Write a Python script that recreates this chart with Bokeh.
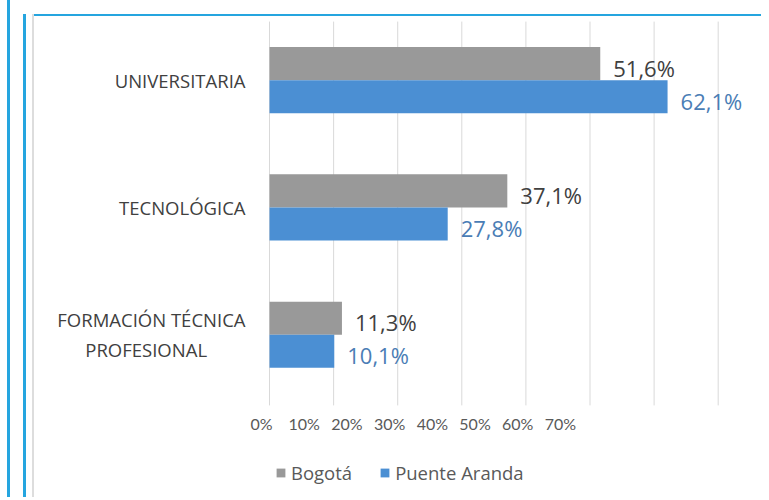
from bokeh.plotting import figure
from bokeh.models import (Range1d, LinearAxis, FixedTicker, ColumnDataSource,
                          Legend, LegendItem)
from bokeh.transform import dodge
from bokeh.core.properties import value
from bokeh.embed import file_html
from bokeh.resources import INLINE

# ---- data ----
NB = "\u00a0"
categories = ["UNIVERSITARIA", "TECNOLÓGICA",
              "FORMACIÓN TÉCNICA\nPROFESIONAL" + NB * 8]
bogota = [51.6, 37.1, 11.3]
puente_aranda = [62.1, 27.8, 10.1]
bogota_labels = ["51,6%", "37,1%", "11,3%"]
puente_labels = ["62,1%", "27,8%", "10,1%"]
tick_values = [0, 10, 20, 30, 40, 50, 60, 70]
tick_labels = ["0%", "10%", "20%", "30%", "40%", "50%", "60%", "70%"]
series_names = ["Bogotá", "Puente Aranda"]

GRAY = "#999999"
BLUE = "#4B8FD3"
BORDER = "#25A5DF"
LABEL_FONT = "Open Sans"
TICK_FONT = "Lato"

n = len(categories)
ypos = list(range(n))[::-1]          # top to bottom
src = ColumnDataSource(dict(y=ypos, cat=categories, bog=bogota,
                            pa=puente_aranda, bog_lbl=bogota_labels,
                            pa_lbl=puente_labels))

top = n - 0.5
p = figure(frame_width=502, frame_height=481,
           y_range=Range1d(top - 481 / 127.3, top),
           x_range=Range1d(-3.28, 75.04),
           x_axis_location=None,
           output_backend="svg", toolbar_location=None,
           min_border_left=248, min_border_right=11,
           min_border_top=16, min_border_bottom=0)
p.outline_line_color = None
p.border_fill_color = None
p.background_fill_color = None
p.grid.visible = False
p.styles = {
    "box-shadow": ("inset 7px 0 0 0 #ffffff, "
                   f"inset 10px 0 0 0 {BORDER}, "
                   "inset 23px 0 0 0 #ffffff, "
                   "inset 0 14px 0 0 #ffffff, "
                   f"inset 26px 0 0 0 {BORDER}, "
                   "inset 32px 0 0 0 #ffffff, "
                   "inset 34px 0 0 0 #DDDDDD, "
                   f"inset 0 16px 0 0 {BORDER}"),
}

# vertical gridlines over the category area
p.segment(x0=tick_values, x1=tick_values, y0=top - 0.04, y1=-0.5 - 0.055,
          line_color="#D9D9D9", line_width=1)

y_top = dodge("y", 0.13)
y_bot = dodge("y", -0.13)

r_bog = p.hbar(y=y_top, left=0, right="bog", height=0.26, source=src,
               fill_color=GRAY, line_color=None)
r_pa = p.hbar(y=y_bot, left=0, right="pa", height=0.26, source=src,
              fill_color=BLUE, line_color=None)

p.text(x="bog", y=y_top, text="bog_lbl", source=src, x_offset=13, y_offset=4,
       text_align="left", text_baseline="middle", text_font=value(LABEL_FONT),
       text_font_size="22px", text_color="#404040")
p.text(x="pa", y=y_bot, text="pa_lbl", source=src, x_offset=13, y_offset=4,
       text_align="left", text_baseline="middle", text_font=value(LABEL_FONT),
       text_font_size="22px", text_color="#4A7DB5")

# compressed tick labels (as drawn in the original), on their own scale
p.extra_x_ranges = {"ticks": Range1d(-3.04, 114.5)}
p.text(x=tick_values, y=-0.5 - 0.2, text=tick_labels, x_range_name="ticks",
       text_align="center", text_baseline="middle", text_font=value(TICK_FONT),
       text_font_size="16px", text_color="#595959")

# category axis
p.yaxis.ticker = FixedTicker(ticks=ypos)
p.yaxis.major_label_overrides = {y: c for y, c in zip(ypos, categories)}
p.yaxis.axis_line_color = None
p.yaxis.major_tick_line_color = None
p.yaxis.minor_tick_line_color = None
p.yaxis.major_tick_out = 0
p.yaxis.major_label_standoff = 3
p.yaxis.major_label_text_font = LABEL_FONT
p.yaxis.major_label_text_font_size = "18.5px"
p.yaxis.major_label_text_color = "#404040"

legend = Legend(items=[LegendItem(label=series_names[0], renderers=[r_bog]),
                       LegendItem(label=series_names[1], renderers=[r_pa])],
                orientation="horizontal", location=(27, 12),
                glyph_width=11, glyph_height=11, label_standoff=5, spacing=27,
                padding=0, margin=0, background_fill_alpha=0,
                border_line_color=None,
                label_text_font=LABEL_FONT, label_text_font_size="18.5px",
                label_text_color="#595959")
p.add_layout(legend, "center")

open("out.html", "w").write(file_html(p, INLINE))
